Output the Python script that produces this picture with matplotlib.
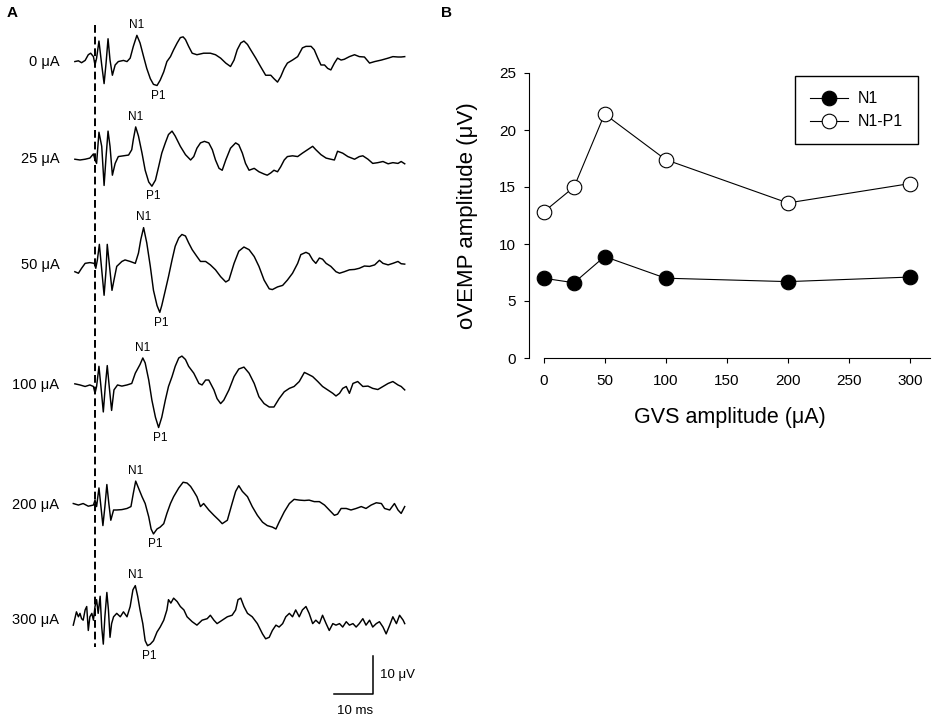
import matplotlib.pyplot as plt
import numpy as np

plt.rcParams["font.family"] = ["Liberation Sans", "DejaVu Sans"]

# ── Datos panel A: trazas oVEMP (ms desde el estímulo, µV) ─────────────────────
TRACE_LABELS = ["0 μA", "25 μA", "50 μA", "100 μA", "200 μA", "300 μA"]

TRACE_0 = [
    (-5.1, 0.0), (-4.2, 0.2), (-3.4, -0.3), (-2.5, 0.3), (-1.7, 1.8), (-1.1, 2.2),
    (-0.4, 1.3), (0.0, -0.9), (0.4, 0.9), (1.0, 5.4), (1.7, -0.9), (2.3, -5.8),
    (2.8, -0.4), (3.3, 6.0), (3.8, 0.4), (4.4, -3.6), (5.1, -0.9), (5.9, 0.0),
    (7.2, 0.3), (8.1, 0.0), (8.9, 0.9), (9.7, 4.0), (10.6, 6.9), (11.4, 4.9),
    (12.3, 1.3), (13.1, -1.8), (14.0, -4.5), (14.8, -6.0), (15.7, -6.3), (16.5, -4.9),
    (17.4, -2.7), (18.2, 0.0), (19.1, 1.3), (19.9, 3.1), (20.8, 4.9), (21.6, 6.3),
    (22.3, 6.5), (22.9, 5.8), (23.7, 4.0), (24.6, 2.2), (25.8, 1.8), (27.5, 2.2),
    (29.2, 2.2), (30.5, 1.8), (31.8, 0.9), (33.1, -0.4), (34.3, -1.3), (35.2, 0.4),
    (36.0, 3.1), (36.9, 4.9), (37.7, 5.4), (38.6, 4.5), (39.4, 3.1), (40.7, 0.9),
    (41.9, -1.3), (43.2, -3.6), (44.5, -3.6), (45.3, -4.5), (46.2, -5.4), (47.0, -4.0),
    (47.9, -1.8), (48.7, -0.4), (50.0, 0.4), (51.3, 1.3), (52.5, 3.6), (53.4, 4.0),
    (54.7, 4.0), (55.5, 3.1), (56.4, 0.9), (57.2, -0.9), (58.1, -0.9), (58.9, -1.8),
    (59.7, -2.2), (60.6, -0.4), (61.4, 0.9), (62.3, 0.4), (63.1, 0.6), (64.4, 1.3),
    (65.7, 1.8), (66.9, 1.3), (68.2, 1.2), (69.5, -0.4), (70.8, 0.0), (72.5, 0.4),
    (74.2, 0.9), (75.4, 1.3), (76.7, 1.2), (77.5, 1.2), (78.4, 1.3),
]

TRACE_25 = [
    (-5.1, 0.0), (-3.8, -0.2), (-2.5, 0.0), (-1.3, 0.3), (-0.4, 1.4), (0.0, -0.2),
    (0.4, -1.1), (1.0, 7.1), (1.7, 3.4), (2.3, -6.9), (2.8, 0.7), (3.3, 7.4),
    (3.8, 3.4), (4.4, -4.2), (5.1, -1.1), (5.9, 0.7), (7.2, 0.9), (8.5, 1.1),
    (9.3, 2.5), (9.7, 5.2), (10.3, 8.5), (11.0, 6.1), (11.9, 1.6), (12.7, -2.9),
    (13.6, -6.0), (14.4, -7.1), (15.3, -5.5), (16.1, -2.0), (16.9, 1.6), (17.8, 4.3),
    (18.6, 6.5), (19.5, 7.4), (20.3, 6.1), (21.6, 3.4), (22.9, 1.2), (24.2, -0.2),
    (25.0, 0.7), (25.8, 2.9), (26.7, 4.3), (27.7, 4.7), (28.8, 4.3), (29.7, 2.5),
    (30.5, -0.2), (31.4, -2.4), (32.2, -2.9), (33.1, -0.2), (34.3, 2.9), (35.6, 4.3),
    (36.4, 3.8), (37.3, 1.6), (38.1, -1.1), (39.0, -2.9), (40.3, -2.4), (41.5, -3.3),
    (42.8, -3.9), (43.6, -4.2), (44.5, -3.6), (45.3, -2.9), (46.2, -3.3), (47.0, -2.0),
    (47.9, -0.2), (48.7, 0.7), (50.0, 0.9), (51.3, 0.7), (52.5, 1.6), (53.8, 2.5),
    (55.1, 3.4), (55.9, 2.5), (57.2, 1.2), (58.5, 0.3), (59.7, 0.0), (60.6, -0.2),
    (61.4, 2.1), (62.7, 1.6), (64.0, 0.7), (65.7, 0.0), (66.9, 0.7), (67.8, 0.9),
    (69.1, 0.0), (70.3, -1.1), (71.6, -0.9), (72.9, -0.6), (74.2, -1.2), (75.4, -0.9),
    (76.7, -1.1), (77.5, -0.6), (78.4, -1.2),
]

TRACE_50 = [
    (-5.1, -1.8), (-4.2, -2.2), (-3.4, -0.9), (-2.5, 0.4), (-1.3, 0.6), (-0.2, 0.4),
    (0.2, -0.9), (0.6, 1.3), (1.1, 5.4), (1.7, -1.3), (2.3, -8.0), (2.8, -1.3),
    (3.1, 5.4), (3.6, 0.4), (4.3, -6.7), (4.8, -4.0), (5.5, -0.4), (6.8, 0.9),
    (7.6, 1.3), (8.9, 0.9), (10.2, 0.4), (11.0, 3.1), (11.6, 6.7), (12.3, 9.8),
    (13.1, 5.8), (14.0, -0.4), (14.8, -6.7), (15.7, -10.7), (16.4, -12.5), (16.9, -10.7),
    (17.8, -6.7), (18.6, -3.1), (19.5, 1.3), (20.3, 4.9), (21.2, 7.1), (22.0, 8.0),
    (22.9, 7.6), (23.7, 5.8), (24.6, 4.0), (25.8, 2.2), (26.7, 0.9), (28.0, 0.9),
    (29.2, 0.0), (30.5, -1.3), (31.8, -3.1), (33.1, -4.5), (33.9, -4.0), (35.2, 0.4),
    (36.4, 3.6), (37.7, 4.7), (39.0, 4.0), (40.3, 2.2), (41.5, -0.4), (42.8, -4.0),
    (44.1, -6.3), (44.9, -6.5), (46.2, -5.8), (47.5, -5.4), (48.7, -4.0), (50.0, -2.2),
    (51.3, 0.4), (52.1, 2.7), (53.4, 3.3), (54.2, 2.9), (55.1, 1.3), (55.9, 0.4),
    (56.8, 1.8), (57.6, 1.5), (58.5, 0.4), (59.7, -0.4), (61.0, -1.8), (61.9, -2.2),
    (63.1, -1.8), (64.4, -1.3), (65.7, -1.2), (66.9, -0.9), (68.2, -0.3), (69.5, -0.4),
    (70.8, 0.0), (72.0, 1.2), (72.9, 0.4), (74.2, 0.0), (75.4, 0.4), (76.7, 0.9),
    (77.5, 0.3), (78.4, 0.2),
]

TRACE_100 = [
    (-5.1, 0.3), (-3.8, 0.0), (-2.5, -0.4), (-1.3, 0.0), (-0.4, -0.4), (0.0, -2.2),
    (0.4, -0.4), (1.0, 4.9), (1.5, -0.4), (2.1, -7.1), (2.6, -0.4), (3.1, 5.1),
    (3.6, -0.4), (4.2, -6.7), (4.8, -1.3), (5.7, 0.0), (6.8, -0.3), (8.1, 0.0),
    (9.3, 0.4), (10.2, 3.1), (11.4, 5.4), (12.1, 7.1), (12.7, 5.8), (13.6, 1.3),
    (14.4, -4.0), (15.3, -8.5), (16.1, -11.2), (16.9, -8.5), (17.8, -4.0), (18.6, -0.4),
    (19.5, 2.2), (20.3, 4.9), (21.2, 7.1), (22.0, 7.6), (22.9, 6.7), (23.7, 4.9),
    (25.0, 3.1), (26.3, 0.4), (27.1, 0.0), (28.0, 1.3), (28.8, 1.3), (30.1, -1.3),
    (30.9, -3.6), (31.8, -4.9), (32.6, -4.0), (33.9, -1.3), (35.2, 2.2), (36.4, 4.2),
    (37.7, 4.7), (39.0, 3.1), (40.3, 0.4), (41.5, -3.1), (42.8, -4.9), (44.1, -5.8),
    (45.3, -5.8), (46.6, -3.6), (47.9, -1.8), (49.2, -0.9), (50.4, -0.4), (51.7, 0.9),
    (53.0, 3.3), (53.8, 2.9), (55.1, 2.2), (56.4, 0.9), (57.6, -0.4), (58.9, -1.3),
    (60.2, -2.2), (61.0, -2.9), (61.9, -2.2), (62.7, -0.9), (63.6, -0.4), (64.4, -2.2),
    (65.3, 0.4), (66.5, 0.9), (67.8, -0.4), (69.1, -0.3), (70.3, -0.9), (71.6, -1.2),
    (72.9, -0.4), (74.2, 0.4), (75.4, 0.9), (76.7, 0.0), (77.5, -0.4), (78.4, -1.3),
]

TRACE_200 = [
    (-5.5, 0.4), (-4.2, 0.0), (-3.0, 0.4), (-1.7, -0.3), (-0.4, 0.0), (0.0, 1.3),
    (0.4, -0.4), (1.0, 4.5), (1.5, -0.4), (2.0, -5.4), (2.5, -0.4), (3.0, 5.4),
    (3.5, 0.4), (4.0, -4.0), (4.7, -1.3), (5.5, -1.3), (6.8, -1.2), (8.1, -0.9),
    (9.1, -0.4), (9.7, 3.1), (10.3, 6.3), (11.0, 4.5), (11.9, 2.2), (12.7, 0.4),
    (13.6, -3.1), (14.2, -6.3), (14.8, -7.6), (15.7, -6.3), (16.5, -5.8), (17.4, -4.9),
    (18.2, -2.2), (19.1, 0.4), (19.9, 2.2), (21.2, 4.5), (22.3, 6.0), (23.3, 5.8),
    (24.2, 4.9), (25.0, 3.6), (25.8, 2.2), (26.7, -0.4), (27.5, 0.4), (28.8, -1.3),
    (30.1, -2.7), (31.4, -4.0), (32.2, -4.9), (33.5, -4.0), (34.7, 0.4), (35.6, 3.6),
    (36.4, 5.1), (37.3, 3.6), (38.6, 2.2), (39.8, -0.4), (41.1, -2.7), (42.4, -4.5),
    (43.6, -5.4), (44.9, -5.8), (45.8, -6.3), (46.6, -4.5), (47.9, -1.8), (49.2, 0.4),
    (50.4, 1.5), (51.7, 1.3), (53.0, 1.2), (54.2, 1.3), (55.5, 0.9), (56.8, 0.9),
    (58.1, 0.0), (59.3, -1.3), (60.6, -2.7), (61.4, -2.4), (62.3, -0.9), (63.6, -0.9),
    (64.8, -1.3), (66.1, -0.9), (67.4, -0.4), (68.6, -0.9), (69.9, 0.0), (71.2, 0.6),
    (72.5, 0.4), (73.3, -0.9), (74.6, -1.3), (75.8, 0.4), (76.7, -1.3), (77.5, -2.2),
    (78.4, -0.4),
]

TRACE_300 = [
    (-5.5, -1.3), (-5.1, 0.4), (-4.7, 2.2), (-4.2, 0.9), (-3.8, 1.8), (-3.4, 0.4),
    (-3.0, 0.0), (-2.5, 2.7), (-2.1, 3.6), (-1.7, -2.7), (-1.3, 0.9), (-0.8, 1.8),
    (-0.4, 0.0), (0.0, 3.6), (0.4, 5.4), (0.8, 1.8), (1.3, 6.3), (1.7, -1.8),
    (2.1, -6.3), (2.5, 0.9), (3.0, 7.3), (3.4, 2.7), (3.8, -4.5), (4.2, -0.9),
    (4.7, 0.9), (5.5, 1.8), (6.4, 0.9), (7.2, 2.2), (8.1, 0.9), (8.9, 3.6),
    (9.6, 8.0), (10.2, 9.1), (10.8, 6.3), (11.4, 2.7), (12.1, -0.9), (12.7, -5.4),
    (13.3, -6.7), (14.0, -6.3), (14.8, -5.4), (15.7, -3.1), (16.5, -1.8), (17.4, 0.0),
    (18.2, 2.7), (18.6, 5.4), (19.2, 4.5), (19.9, 5.8), (20.8, 4.9), (21.6, 3.6),
    (22.5, 2.7), (23.3, 0.9), (24.6, -0.4), (25.8, -1.3), (27.1, 0.0), (28.4, 0.4),
    (29.2, 1.3), (30.1, 0.0), (30.9, -0.9), (32.2, 0.0), (33.5, 0.9), (34.7, 1.3),
    (35.6, 2.7), (36.2, 5.4), (36.9, 5.8), (37.7, 3.6), (38.6, 1.8), (39.8, 0.9),
    (41.1, -0.9), (42.4, -3.6), (43.2, -4.9), (44.1, -4.5), (44.9, -2.7), (45.8, -1.3),
    (46.6, -1.8), (47.5, -0.9), (48.3, 0.9), (49.2, 1.8), (50.0, 0.9), (50.8, 2.7),
    (51.7, 0.9), (52.5, 2.7), (53.4, 3.6), (54.2, 1.8), (55.1, -0.9), (55.9, 0.0),
    (56.8, -0.9), (57.6, 1.3), (58.5, -0.9), (59.3, -2.7), (60.2, -0.9), (61.0, -1.3),
    (61.9, -0.9), (62.7, -1.8), (63.6, -0.4), (64.4, -1.3), (65.3, -0.9), (66.1, -1.8),
    (66.9, -0.9), (67.8, 0.4), (68.6, -1.3), (69.5, 0.0), (70.3, -1.8), (71.2, -0.9),
    (72.0, -0.4), (72.9, -1.8), (73.7, -3.6), (74.6, -1.3), (75.4, 0.9), (76.3, -0.9),
    (77.1, 1.3), (78.0, 0.0), (78.4, -0.9),
]

TRACES = [TRACE_0, TRACE_25, TRACE_50, TRACE_100, TRACE_200, TRACE_300]

# ── Datos panel B ──────────────────────────────────────────────────────────────
GVS_UA = [0, 25, 50, 100, 200, 300]
N1_AMP = [7.0, 6.6, 8.9, 7.0, 6.7, 7.1]
N1P1_AMP = [12.8, 15.0, 21.4, 17.4, 13.6, 15.3]

# ── Layout ─────────────────────────────────────────────────────────────────────
TRACE_OFFSETS = [0, -25.7, -53.5, -85.1, -116.7, -147.0]   # µV, separación vertical
N1_WINDOW = (9.0, 13.0)
P1_WINDOW = (12.5, 17.5)


def plot_traces(ax):
    for label, trace, off in zip(TRACE_LABELS, TRACES, TRACE_OFFSETS):
        t, v = np.array(trace).T
        ax.plot(t, v + off, color="black", lw=1.05)
        ax.text(-9.0, off, label, ha="right", va="center", fontsize=10.5)

        m = (t >= N1_WINDOW[0]) & (t <= N1_WINDOW[1])
        i = np.argmax(np.where(m, v, -np.inf))
        ax.annotate("N1", (t[i], v[i] + off), xytext=(0, 3), textcoords="offset points",
                    ha="center", va="bottom", fontsize=8.5)

        m = (t >= P1_WINDOW[0]) & (t <= P1_WINDOW[1])
        i = np.argmin(np.where(m, v, np.inf))
        ax.annotate("P1", (t[i], v[i] + off), xytext=(1, -3), textcoords="offset points",
                    ha="center", va="top", fontsize=8.5)

    # línea del estímulo
    ax.plot([0, 0], [9.7, -154], color="black", lw=1.4, ls=(0, (4, 2)))

    # barra de escala
    x0, y0 = 70.4, -166.4
    ax.plot([x0 - 10, x0, x0], [y0, y0, y0 + 10], color="black", lw=1.1)
    ax.text(x0 + 1.8, y0 + 5.1, "10 μV", ha="left", va="center", fontsize=9.5)
    ax.text(x0 - 4.6, y0 - 3.0, "10 ms", ha="center", va="top", fontsize=9.5)

    ax.set_xlim(-24.05, 84.8)
    ax.set_ylim(-173.0, 16.2)
    ax.axis("off")


def plot_amplitudes(ax):
    ax.plot(GVS_UA, N1_AMP, color="black", lw=0.8, marker="o", ms=10.5,
            mfc="black", mec="black", mew=0.8, label="N1", zorder=3)
    ax.plot(GVS_UA, N1P1_AMP, color="black", lw=0.8, marker="o", ms=10.5,
            mfc="white", mec="black", mew=0.8, label="N1-P1", zorder=3)

    ax.set_xlim(-11.9, 316.4)
    ax.set_ylim(0, 25)
    ax.set_xticks(range(0, 301, 50))
    ax.set_yticks(range(0, 26, 5))
    ax.spines[["top", "right"]].set_visible(False)
    ax.spines["bottom"].set_bounds(0, 316.4)
    for s in ("left", "bottom"):
        ax.spines[s].set_linewidth(0.8)
    ax.tick_params(direction="out", length=3.5, width=0.8, labelsize=11, pad=6)
    ax.tick_params(axis="x", pad=8)

    ax.set_xlabel("GVS amplitude (μA)", fontsize=15.5)
    ax.set_ylabel("oVEMP amplitude (μV)", fontsize=16)
    ax.xaxis.set_label_coords(0.5, -0.172)
    ax.yaxis.set_label_coords(-0.127, 0.5)

    leg = ax.legend(loc="upper right", bbox_to_anchor=(0.970, 0.989), fontsize=11.5,
                    fancybox=False, edgecolor="black", framealpha=1,
                    handlelength=2.4, handletextpad=0.6, borderpad=0.95,
                    labelspacing=0.5, borderaxespad=0)
    leg.get_frame().set_linewidth(1.0)


def main():
    fig = plt.figure(figsize=(9.36, 7.19), dpi=100)

    ax_a = fig.add_axes([0, 0, 430 / 936, 1])
    plot_traces(ax_a)

    ax_b = fig.add_axes([529 / 936, 1 - 358 / 719, 401 / 936, 285 / 719])
    plot_amplitudes(ax_b)

    fig.text(12 / 936, 1 - 13 / 719, "A", fontsize=11, fontweight="bold", ha="center", va="center")
    fig.text(446 / 936, 1 - 13 / 719, "B", fontsize=11, fontweight="bold", ha="center", va="center")

    fig.savefig("out.png", dpi=100)


if __name__ == "__main__":
    main()
